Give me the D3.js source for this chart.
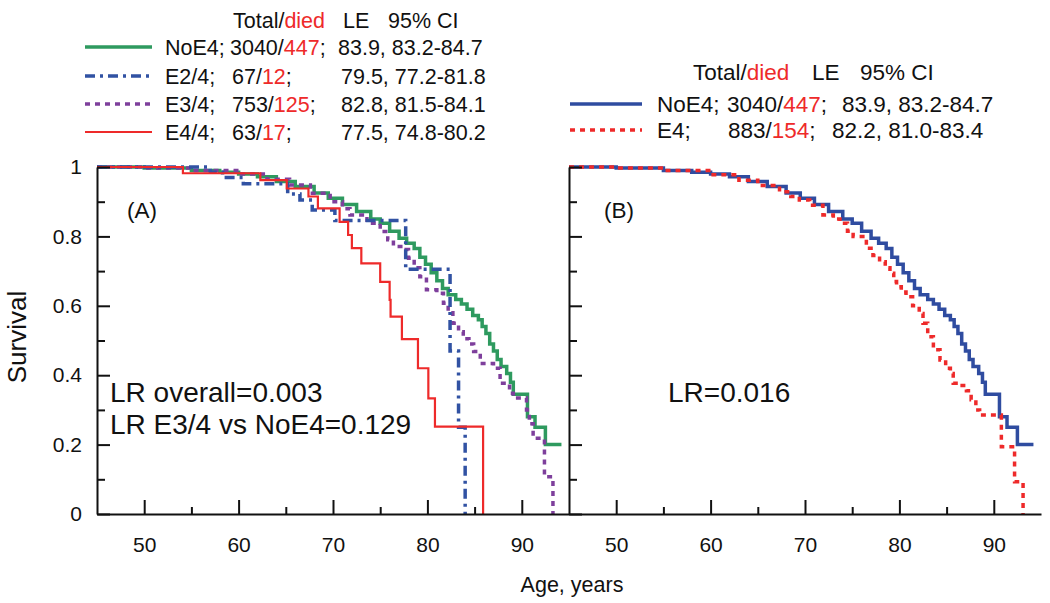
<!DOCTYPE html>
<html>
<head>
<meta charset="utf-8">
<script src="https://cdn.jsdelivr.net/npm/d3@7/dist/d3.min.js"></script>
<style>
  html, body { margin: 0; padding: 0; background: #fff; }
  svg { display: block; font-family: "Liberation Sans", Arial, sans-serif; }
</style>
</head>
<body>
<svg id="chart" width="1050" height="603"></svg>
<script>
// ---------- DATA (age, survival) ----------
const noE4 = [[45,1],[50,0.997],[55,0.99],[58,0.985],[60,0.98],[62,0.972],[64,0.958],[66,0.944],[68,0.925],[69.5,0.91],[71,0.892],[72.5,0.872],[74,0.85],[75,0.838],[76,0.815],[77,0.795],[77.8,0.78],[78.6,0.765],[79.2,0.74],[79.8,0.72],[80.4,0.695],[81,0.672],[81.6,0.65],[82.2,0.632],[83,0.618],[83.6,0.605],[84.2,0.59],[84.8,0.572],[85.4,0.56],[85.8,0.54],[86.2,0.52],[86.6,0.49],[87,0.47],[87.4,0.445],[87.8,0.425],[88.4,0.405],[88.8,0.38],[89.1,0.345],[90.6,0.28],[91.4,0.25],[92.5,0.2],[94.2,0.2]];
const e24 = [[45,1],[57,0.985],[58.3,0.97],[60.5,0.952],[65.2,0.922],[66.5,0.905],[67.8,0.876],[70.2,0.846],[77.7,0.705],[82.4,0.47],[83.3,0.25],[84.0,0]];
const e34 = [[45,1],[50,0.997],[55,0.99],[60,0.98],[63,0.965],[65.4,0.948],[67.6,0.924],[69.7,0.9],[71,0.88],[71.8,0.862],[73.6,0.838],[75,0.814],[75.8,0.79],[76.4,0.771],[77.4,0.762],[78,0.737],[78.6,0.71],[79.2,0.684],[79.9,0.646],[81,0.636],[81.7,0.607],[82.2,0.58],[82.7,0.55],[83.3,0.525],[83.8,0.505],[84.4,0.49],[84.9,0.468],[85.6,0.434],[87,0.42],[87.7,0.377],[88.7,0.348],[89.1,0.334],[90.5,0.3],[90.8,0.26],[91.2,0.218],[92.4,0.107],[93.3,0]];
const e44 = [[45,1],[54.1,0.982],[62.3,0.962],[65.1,0.938],[67.4,0.915],[68.4,0.881],[70.7,0.842],[71.6,0.804],[72.0,0.766],[73.0,0.722],[75.0,0.669],[76.0,0.617],[76.1,0.569],[77.3,0.504],[79.0,0.42],[80.1,0.333],[80.8,0.252],[85.9,0]];
const e4 = [[45,1],[50,0.997],[55,0.99],[60,0.978],[63,0.962],[65,0.947],[67.3,0.929],[68.5,0.915],[69.4,0.905],[70.5,0.89],[71.9,0.862],[73,0.85],[73.7,0.838],[74.5,0.815],[75.1,0.8],[76.5,0.766],[77.2,0.745],[77.9,0.727],[78.5,0.71],[79,0.694],[79.4,0.67],[79.7,0.655],[80.2,0.64],[80.7,0.626],[81.4,0.6],[82.1,0.578],[82.5,0.55],[83,0.511],[83.6,0.473],[84.3,0.444],[84.9,0.42],[85.4,0.405],[85.7,0.377],[86.3,0.37],[87.1,0.355],[87.6,0.329],[88.1,0.3],[88.5,0.285],[90.8,0.194],[92.2,0.093],[93.1,0]];

const xMajorTicks = [50, 60, 70, 80, 90];
const xMinorTicks = [55, 65, 75, 85];
const yMajorTicks = [0, 0.2, 0.4, 0.6, 0.8, 1];
const yMinorTicks = [0.1, 0.3, 0.5, 0.7, 0.9];

const legendHeader = ["Total/", "died", "LE", "95% CI"];
const legendA = [
  {name: "NoE4;", total: "3040/", died: "447", ci: "83.9, 83.2-84.7"},
  {name: "E2/4;", total: "67/", died: "12", ci: "79.5, 77.2-81.8"},
  {name: "E3/4;", total: "753/", died: "125", ci: "82.8, 81.5-84.1"},
  {name: "E4/4;", total: "63/", died: "17", ci: "77.5, 74.8-80.2"}
];
const legendB = [
  {name: "NoE4;", total: "3040/", died: "447", ci: "83.9, 83.2-84.7"},
  {name: "E4;", total: "883/", died: "154", ci: "82.2, 81.0-83.4"}
];
const annotA = ["LR overall=0.003", "LR E3/4 vs NoE4=0.129"];
const annotB = ["LR=0.016"];

// ---------- STYLES ----------
const GREEN = "#2e9a5f", BLUE = "#3152a3", PURPLE = "#7e3f9c", RED = "#ee2a2a", BBLUE = "#2f4ca0";
const styleA = [
  {data: noE4, color: GREEN, width: 3.5, dash: null},
  {data: e34, color: PURPLE, width: 3.5, dash: "5,5"},
  {data: e24, color: BLUE, width: 3.5, dash: "10,5,3,5"},
  {data: e44, color: RED, width: 2.2, dash: null}
];
const legendStyleA = [styleA[0], styleA[2], styleA[1], styleA[3]];
const styleB = [
  {data: noE4, color: BBLUE, width: 3.5, dash: null},
  {data: e4, color: RED, width: 3.5, dash: "5,5"}
];

const svg = d3.select("#chart");
const y = d3.scaleLinear().domain([0, 1]).range([514, 167]);
const xA = d3.scaleLinear().domain([45, 95]).range([97, 569]);
const xB = d3.scaleLinear().domain([45, 95]).range([569, 1041]);

function drawAxes(x, withLabels) {
  const g = svg.append("g");
  const xa = g.append("g").attr("transform", "translate(0,514)")
    .call(d3.axisBottom(x).tickValues(xMajorTicks).tickSizeInner(-14).tickSizeOuter(0).tickPadding(23).tickFormat(d3.format("d")));
  xa.append("g").call(d3.axisBottom(x).tickValues(xMinorTicks).tickSizeInner(-7).tickSizeOuter(0).tickFormat(""))
    .select(".domain").remove();
  const ya = g.append("g").attr("transform", `translate(${x.range()[0]},0)`)
    .call(d3.axisLeft(y).tickValues(yMajorTicks).tickSizeInner(-13).tickSizeOuter(0).tickPadding(15)
      .tickFormat(withLabels ? d3.format("") : ""));
  ya.append("g").call(d3.axisLeft(y).tickValues(yMinorTicks).tickSizeInner(-8).tickSizeOuter(0).tickFormat(""))
    .select(".domain").remove();
  g.selectAll(".domain, .tick line").attr("stroke", "#111").attr("stroke-width", 2);
  g.selectAll(".tick text").attr("font-size", 21).attr("fill", "#111")
    .attr("font-family", '"Liberation Sans", Arial, sans-serif');
}

function drawCurves(x, styles) {
  const line = d3.line().x(d => x(d[0])).y(d => y(d[1])).curve(d3.curveStepAfter);
  const g = svg.append("g");
  styles.forEach(s => {
    g.append("path").attr("d", line(s.data)).attr("fill", "none")
      .attr("stroke", s.color).attr("stroke-width", s.width)
      .attr("stroke-dasharray", s.dash).attr("stroke-linejoin", "miter");
  });
}

drawCurves(xA, styleA);
drawCurves(xB, styleB);
drawAxes(xA, true);
drawAxes(xB, false);

// ---------- legends ----------
function drawHeader(xs, baseline, fs) {
  const t = svg.append("text").attr("x", xs[0]).attr("y", baseline).attr("font-size", fs).attr("fill", "#111");
  t.append("tspan").text(legendHeader[0]);
  t.append("tspan").attr("fill", RED).text(legendHeader[1]);
  svg.append("text").attr("x", xs[1]).attr("y", baseline).attr("font-size", fs).attr("fill", "#111").text(legendHeader[2]);
  svg.append("text").attr("x", xs[2]).attr("y", baseline).attr("font-size", fs).attr("fill", "#111").text(legendHeader[3]);
}
function drawLegend(items, styles, rows, lineX, colX, fs) {
  items.forEach((it, i) => {
    const cy = rows[i];
    const s = styles[i];
    svg.append("line").attr("x1", lineX[0]).attr("x2", lineX[1]).attr("y1", cy).attr("y2", cy)
      .attr("stroke", s.color).attr("stroke-width", s.width).attr("stroke-dasharray", s.dash);
    const bl = cy + fs * 0.36;
    svg.append("text").attr("x", colX[i][0]).attr("y", bl).attr("font-size", fs).attr("fill", "#111").text(it.name);
    const t = svg.append("text").attr("x", colX[i][1]).attr("y", bl).attr("font-size", fs).attr("fill", "#111");
    t.append("tspan").text(it.total);
    t.append("tspan").attr("fill", RED).text(it.died);
    t.append("tspan").text(";");
    svg.append("text").attr("x", colX[i][2]).attr("y", bl).attr("font-size", fs).attr("fill", "#111").text(it.ci);
  });
}
drawHeader([233, 343, 388], 27.5, 21.5);
drawLegend(legendA, legendStyleA, [47, 76, 104, 132], [85, 152],
  [[165, 230, 338], [165, 232, 341], [165, 232, 341], [165, 232, 341]], 21.5);
drawHeader([693, 812, 860], 80, 22.5);
drawLegend(legendB, styleB, [104, 130], [570, 642], [[657, 727, 842], [657, 728, 832]], 22.5);

// ---------- annotations ----------
svg.append("text").attr("x", 127).attr("y", 218).attr("font-size", 22.5).attr("fill", "#111").text("(A)");
svg.append("text").attr("x", 604).attr("y", 218).attr("font-size", 22.5).attr("fill", "#111").text("(B)");
annotA.forEach((a, i) => {
  svg.append("text").attr("x", 110).attr("y", 402 + i * 32).attr("font-size", 28).attr("fill", "#111").text(a);
});
svg.append("text").attr("x", 668).attr("y", 402).attr("font-size", 28).attr("fill", "#111").text(annotB[0]);

svg.append("text").attr("transform", "translate(26,337) rotate(-90)").attr("text-anchor", "middle")
  .attr("font-size", 26).attr("fill", "#111").text("Survival");
svg.append("text").attr("x", 572).attr("y", 592).attr("text-anchor", "middle")
  .attr("font-size", 21.5).attr("fill", "#111").text("Age, years");
</script>
</body>
</html>
